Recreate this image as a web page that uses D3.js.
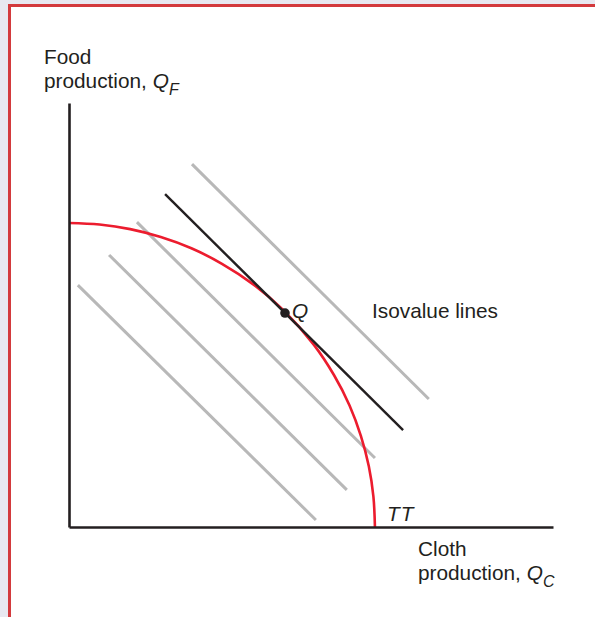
<!DOCTYPE html>
<html>
<head>
<meta charset="utf-8">
<script src="https://cdn.jsdelivr.net/npm/d3@7"></script>
<style>
  html, body { margin: 0; padding: 0; background: #e8e8f0; }
  svg { display: block; }
  text { font-family: "Liberation Sans", Arial, Helvetica, sans-serif; fill: #231f20; }
</style>
</head>
<body>
<svg id="chart" width="595" height="617"></svg>
<script>
// ---- Data ----
// Transformation curve TT (cloth, food)
const ttCloth = [0, 1, 2, 3, 4, 5, 6, 7, 8, 8.66, 9.17, 9.54, 9.8, 9.95, 10];
const ttFood  = [10, 9.95, 9.8, 9.54, 9.17, 8.66, 8, 7.14, 6, 5, 4, 3, 2, 1, 0];
// Isovalue lines: start and end points
const isoX1 = [4.02, 2.22, 1.31, 0.29];
const isoY1 = [11.94, 10.03, 8.95, 7.96];
const isoX2 = [11.76, 10.0, 9.08, 8.07];
const isoY2 = [4.21, 2.27, 1.22, 0.23];
// Tangent isovalue line through Q
const tanX = [3.14, 10.92];
const tanY = [10.95, 3.19];
// Production point Q
const qPoint = [7.06, 7.04];
// Axis extents
const xMax = 15.82, yMax = 13.95;

const svg = d3.select("#chart");

// page frame
svg.append("rect").attr("x", 9.5).attr("y", 5.5).attr("width", 700).attr("height", 700)
  .attr("fill", "#ffffff").attr("stroke", "#d33a3d").attr("stroke-width", 3);

const x = d3.scaleLinear().domain([0, xMax]).range([69, 553]);
const y = d3.scaleLinear().domain([0, yMax]).range([527, 103]);

// isovalue lines (gray)
svg.append("g").selectAll("line").data(isoX1.map((d, i) => i)).join("line")
  .attr("x1", i => x(isoX1[i])).attr("y1", i => y(isoY1[i]))
  .attr("x2", i => x(isoX2[i])).attr("y2", i => y(isoY2[i]))
  .attr("stroke", "#b8b8b8").attr("stroke-width", 3);

// TT curve
const tt = ttCloth.map((c, i) => [c, ttFood[i]]);
svg.append("path").datum(tt)
  .attr("d", d3.line().x(d => x(d[0])).y(d => y(d[1])).curve(d3.curveCatmullRom.alpha(0.5)))
  .attr("fill", "none").attr("stroke", "#ec1c2e").attr("stroke-width", 2.6);

// tangent line
svg.append("line")
  .attr("x1", x(tanX[0])).attr("y1", y(tanY[0]))
  .attr("x2", x(tanX[1])).attr("y2", y(tanY[1]))
  .attr("stroke", "#231f20").attr("stroke-width", 2.4);

// axes
svg.append("g").attr("transform", `translate(0,${y(0)})`)
  .call(d3.axisBottom(x).tickValues([]).tickSizeOuter(0))
  .select(".domain").attr("stroke", "#231f20").attr("stroke-width", 2.6);
svg.append("g").attr("transform", `translate(${x(0)},0)`)
  .call(d3.axisLeft(y).tickValues([]).tickSizeOuter(0))
  .select(".domain").attr("stroke", "#231f20").attr("stroke-width", 2.6);

// point Q
svg.append("circle").attr("cx", x(qPoint[0])).attr("cy", y(qPoint[1])).attr("r", 4.8)
  .attr("fill", "#231f20");

const fs = 20.8;
const subFs = 16;
// Y axis label
svg.append("text").attr("x", 44).attr("y", 64).attr("font-size", fs).text("Food");
const yl = svg.append("text").attr("x", 44).attr("y", 88).attr("font-size", fs);
yl.append("tspan").text("production, ");
yl.append("tspan").attr("font-style", "italic").text("Q");
yl.append("tspan").attr("font-style", "italic").attr("font-size", subFs).attr("dy", 7).text("F");

// X axis label
svg.append("text").attr("x", 418).attr("y", 556).attr("font-size", fs).text("Cloth");
const xl = svg.append("text").attr("x", 418).attr("y", 580).attr("font-size", fs);
xl.append("tspan").text("production, ");
xl.append("tspan").attr("font-style", "italic").text("Q");
xl.append("tspan").attr("font-style", "italic").attr("font-size", subFs).attr("dy", 7).text("C");

// Q label
svg.append("text").attr("x", 292).attr("y", 318).attr("font-size", fs).attr("font-style", "italic").text("Q");
// TT label
svg.append("text").attr("x", 387).attr("y", 521).attr("font-size", fs).attr("font-style", "italic")
  .attr("letter-spacing", 1).text("TT");
// Isovalue lines label
svg.append("text").attr("x", 372).attr("y", 318).attr("font-size", fs).text("Isovalue lines");
</script>
</body>
</html>
